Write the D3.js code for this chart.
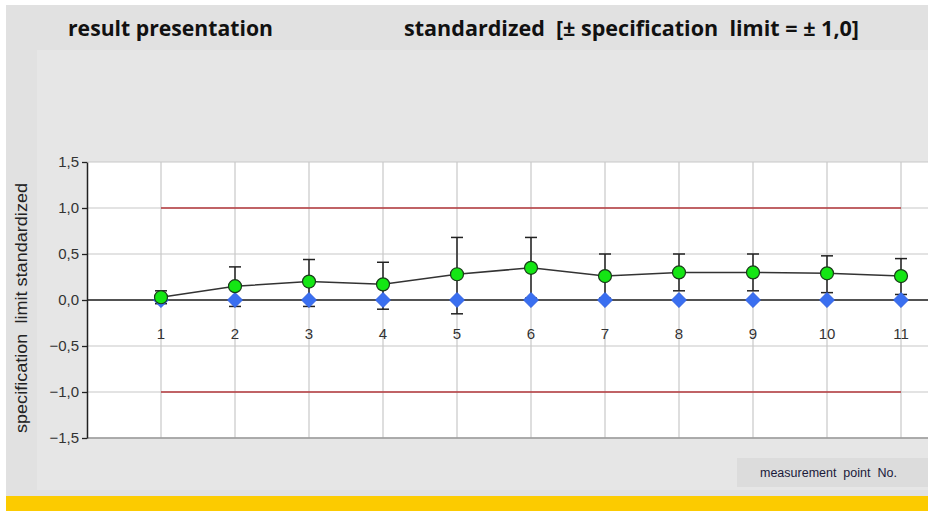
<!DOCTYPE html>
<html>
<head>
<script src="https://d3js.org/d3.v7.min.js"></script>
<style>
  body { margin: 0; background: #fff; }
  svg { display: block; }
  text { white-space: pre; }
</style>
</head>
<body>
<svg width="928" height="511"></svg>
<script>
// measurement points
const points = [1, 2, 3, 4, 5, 6, 7, 8, 9, 10, 11];
// standardized result (green) with error bar ends
const resultValues = [0.03, 0.15, 0.20, 0.17, 0.28, 0.35, 0.26, 0.30, 0.30, 0.29, 0.26];
const resultUpper  = [0.10, 0.36, 0.44, 0.41, 0.68, 0.68, 0.50, 0.50, 0.50, 0.48, 0.45];
const resultLower  = [-0.04, -0.07, -0.07, -0.10, -0.15, 0.02, 0.02, 0.10, 0.10, 0.08, 0.06];
// reference (blue diamonds)
const referenceValues = [0, 0, 0, 0, 0, 0, 0, 0, 0, 0, 0];
// specification limits
const specLimits = [1.0, -1.0];
const yTicks = [1.5, 1.0, 0.5, 0.0, -0.5, -1.0, -1.5];

const svg = d3.select('svg');
const width = +svg.attr('width');
const height = +svg.attr('height');

// backgrounds
svg.append('rect').attr('x', 6).attr('y', 5).attr('width', width - 6).attr('height', height - 5).attr('fill', '#e1e1e1');
svg.append('rect').attr('x', 37).attr('y', 50).attr('width', width - 37).attr('height', 440).attr('fill', '#e6e6e6');
svg.append('rect').attr('x', 6).attr('y', 496).attr('width', width - 6).attr('height', 15).attr('fill', '#fccb00');

// titles
svg.append('text').attr('x', 68).attr('y', 36)
  .attr('font-family', 'Open Sans, sans-serif').attr('font-weight', 'bold').attr('font-size', 21)
  .attr('textLength', 205).attr('lengthAdjust', 'spacingAndGlyphs')
  .attr('fill', '#111').text('result presentation');
svg.append('text').attr('x', 404).attr('y', 36)
  .attr('font-family', 'Open Sans, sans-serif').attr('font-weight', 'bold').attr('font-size', 21)
  .attr('textLength', 455).attr('lengthAdjust', 'spacingAndGlyphs')
  .attr('fill', '#111').text('standardized  [± specification  limit = ± 1,0]');

const margin = { left: 87, top: 162, bottom: 438 };
const x = d3.scaleLinear().domain([0, 1]).range([margin.left, margin.left + 74]);
const y = d3.scaleLinear().domain([-1.5, 1.5]).range([margin.bottom, margin.top]);

// plot area
svg.append('rect').attr('x', margin.left).attr('y', margin.top)
  .attr('width', width - margin.left).attr('height', margin.bottom - margin.top).attr('fill', '#fff');

const fmt = d => d3.format('.1f')(d).replace('.', ',');

// horizontal grid
svg.append('g').selectAll('line').data(yTicks).join('line')
  .attr('x1', margin.left).attr('x2', width)
  .attr('y1', d => y(d)).attr('y2', d => y(d))
  .attr('stroke', '#c8c8c8').attr('stroke-width', 1.2);
// vertical grid
svg.append('g').selectAll('line').data(points).join('line')
  .attr('x1', d => x(d)).attr('x2', d => x(d))
  .attr('y1', margin.top).attr('y2', margin.bottom)
  .attr('stroke', '#c8c8c8').attr('stroke-width', 1.2);

// spec limit lines
svg.append('g').selectAll('line').data(specLimits).join('line')
  .attr('x1', x(1)).attr('x2', x(11))
  .attr('y1', d => y(d)).attr('y2', d => y(d))
  .attr('stroke', '#b5393c').attr('stroke-width', 1.5);

// bottom border
svg.append('line').attr('x1', margin.left).attr('x2', width)
  .attr('y1', margin.bottom).attr('y2', margin.bottom)
  .attr('stroke', '#9a9a9a').attr('stroke-width', 1.5);

// zero line
svg.append('line').attr('x1', margin.left).attr('x2', width)
  .attr('y1', y(0)).attr('y2', y(0))
  .attr('stroke', '#222').attr('stroke-width', 1.3);

// y axis
const yAxis = svg.append('g').attr('transform', `translate(${margin.left},0)`)
  .call(d3.axisLeft(y).tickValues(yTicks).tickFormat(fmt).tickSize(5).tickSizeOuter(0));
yAxis.select('.domain').attr('stroke', '#222').attr('stroke-width', 1.5);
yAxis.selectAll('.tick line').attr('stroke', '#222').attr('stroke-width', 1.3);
yAxis.selectAll('text').attr('font-family', 'Liberation Sans, Arial, sans-serif')
  .attr('font-size', 15).attr('fill', '#333').attr('x', -8);

// x tick labels
svg.append('g').selectAll('text').data(points).join('text')
  .attr('x', d => x(d)).attr('y', y(0) + 39)
  .attr('text-anchor', 'middle')
  .attr('font-family', 'Liberation Sans, Arial, sans-serif').attr('font-size', 15)
  .attr('fill', '#333').text(d => d);

// y axis title
svg.append('text')
  .attr('transform', `translate(27,${y(0) + 8}) rotate(-90)`)
  .attr('text-anchor', 'middle')
  .attr('font-family', 'Liberation Sans, Arial, sans-serif').attr('font-size', 16)
  .attr('textLength', 250).attr('lengthAdjust', 'spacingAndGlyphs')
  .attr('fill', '#222').text('specification  limit standardized');

// x axis title
svg.append('rect').attr('x', 737).attr('y', 458).attr('width', width - 737).attr('height', 29).attr('fill', '#dcdcdc');
svg.append('text').attr('x', 760).attr('y', 477)
  .attr('font-family', 'Liberation Sans, Arial, sans-serif').attr('font-size', 12.5)
  .attr('fill', '#1a1a3a').text('measurement  point  No.');

const resultData = points.map((p, i) => ({ p, v: resultValues[i], lo: resultLower[i], hi: resultUpper[i] }));

// error bars
const err = svg.append('g').attr('stroke', '#222').attr('stroke-width', 1.5);
err.selectAll('.bar').data(resultData).join('line')
  .attr('x1', d => x(d.p)).attr('x2', d => x(d.p))
  .attr('y1', d => y(d.lo)).attr('y2', d => y(d.hi));
err.selectAll('.capHi').data(resultData).join('line').attr('class', 'capHi')
  .attr('x1', d => x(d.p) - 6).attr('x2', d => x(d.p) + 6)
  .attr('y1', d => y(d.hi)).attr('y2', d => y(d.hi));
err.selectAll('.capLo').data(resultData).join('line').attr('class', 'capLo')
  .attr('x1', d => x(d.p) - 6).attr('x2', d => x(d.p) + 6)
  .attr('y1', d => y(d.lo)).attr('y2', d => y(d.lo));

// reference diamonds
svg.append('g').selectAll('path').data(points).join('path')
  .attr('transform', (d, i) => `translate(${x(d)},${y(referenceValues[i])})`)
  .attr('d', d3.symbol(d3.symbolDiamond2, 150))
  .attr('fill', '#3a6ff0').attr('stroke', '#2a55d0').attr('stroke-width', 0.5);

// result line
svg.append('path').datum(resultData)
  .attr('d', d3.line().x(d => x(d.p)).y(d => y(d.v)))
  .attr('fill', 'none').attr('stroke', '#333').attr('stroke-width', 1.5);

// result circles
svg.append('g').selectAll('circle').data(resultData).join('circle')
  .attr('cx', d => x(d.p)).attr('cy', d => y(d.v)).attr('r', 6.5)
  .attr('fill', '#14e614').attr('stroke', '#1a3a1a').attr('stroke-width', 1.2);
</script>
</body>
</html>
